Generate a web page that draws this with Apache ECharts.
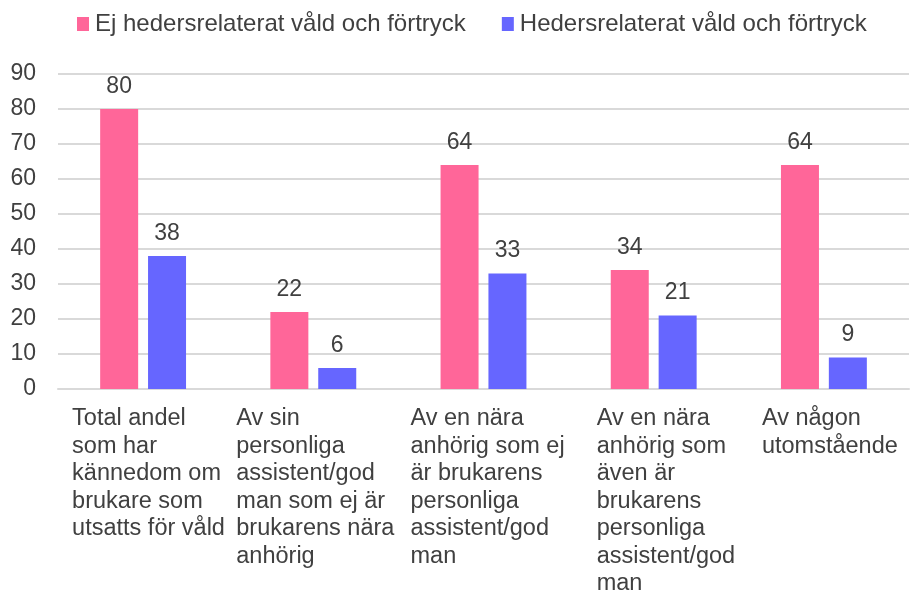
<!DOCTYPE html>
<html>
<head>
<meta charset="utf-8">
<script src="https://cdn.jsdelivr.net/npm/echarts@6/dist/echarts.min.js"></script>
<style>
  html, body { margin: 0; padding: 0; background: #fff; }
  #main { width: 911px; height: 592px; }
</style>
</head>
<body>
<div id="main"></div>
<script>
const categories = [
  'Total andel\nsom har\nkännedom om\nbrukare som\nutsatts för våld',
  'Av sin\npersonliga\nassistent/god\nman som ej är\nbrukarens nära\nanhörig',
  'Av en nära\nanhörig som ej\när brukarens\npersonliga\nassistent/god\nman',
  'Av en nära\nanhörig som\näven är\nbrukarens\npersonliga\nassistent/god\nman',
  'Av någon\nutomstående'
];
const seriesNames = ['Ej hedersrelaterat våld och förtryck', 'Hedersrelaterat våld och förtryck'];
const ejHeders = [80, 22, 64, 34, 64];
const heders = [38, 6, 33, 21, 9];
const yTicks = [0, 10, 20, 30, 40, 50, 60, 70, 80, 90];

// how far left of the tick each label block starts
const labelShift = [71, 77, 73, 57, 62];

const chart = echarts.init(document.getElementById('main'));

const rich = {};
labelShift.forEach((s, i) => {
  rich['c' + i] = { width: s * 2, align: 'left', fontSize: 23.5, lineHeight: 27.5, color: '#404040', fontFamily: 'Liberation Sans, Arial, sans-serif' };
});

const option = {
  backgroundColor: '#ffffff',
  textStyle: { fontFamily: 'Liberation Sans, Arial, sans-serif' },
  legend: {
    data: seriesNames,
    top: 7,
    left: 72,
    itemWidth: 12,
    itemHeight: 14,
    itemGap: 36,
    icon: 'rect',
    textStyle: { fontSize: 24, color: '#404040', padding: [0, 0, 0, 1] }
  },
  grid: { left: 58, right: 2, top: 74, bottom: 203, outerBoundsMode: 'none', containLabel: false },
  xAxis: {
    type: 'category',
    data: categories,
    axisLine: { show: true, lineStyle: { color: '#d9d9d9', width: 2 } },
    axisTick: { show: false },
    axisLabel: {
      interval: 0,
      margin: 16,
      align: 'center',
      verticalAlign: 'top',
      formatter: (val, idx) => val.split('\n').map(l => '{c' + idx + '|' + l + '}').join('\n'),
      rich: rich
    }
  },
  yAxis: {
    type: 'value',
    min: yTicks[0],
    max: yTicks[yTicks.length - 1],
    interval: 10,
    axisLine: { show: false },
    axisTick: { show: false },
    axisLabel: { fontSize: 23, color: '#404040', margin: 22 },
    splitLine: { lineStyle: { color: '#d9d9d9', width: 2 } }
  },
  series: [
    {
      name: seriesNames[0],
      type: 'bar',
      data: ejHeders,
      barWidth: 38,
      barGap: '26%',
      itemStyle: { color: '#ff6699' },
      label: { show: true, position: 'top', distance: 11, fontSize: 23, color: '#404040' }
    },
    {
      name: seriesNames[1],
      type: 'bar',
      data: heders,
      barWidth: 38,
      itemStyle: { color: '#6666ff' },
      label: { show: true, position: 'top', distance: 11, fontSize: 23, color: '#404040' }
    }
  ]
};

chart.setOption(option);
</script>
</body>
</html>
